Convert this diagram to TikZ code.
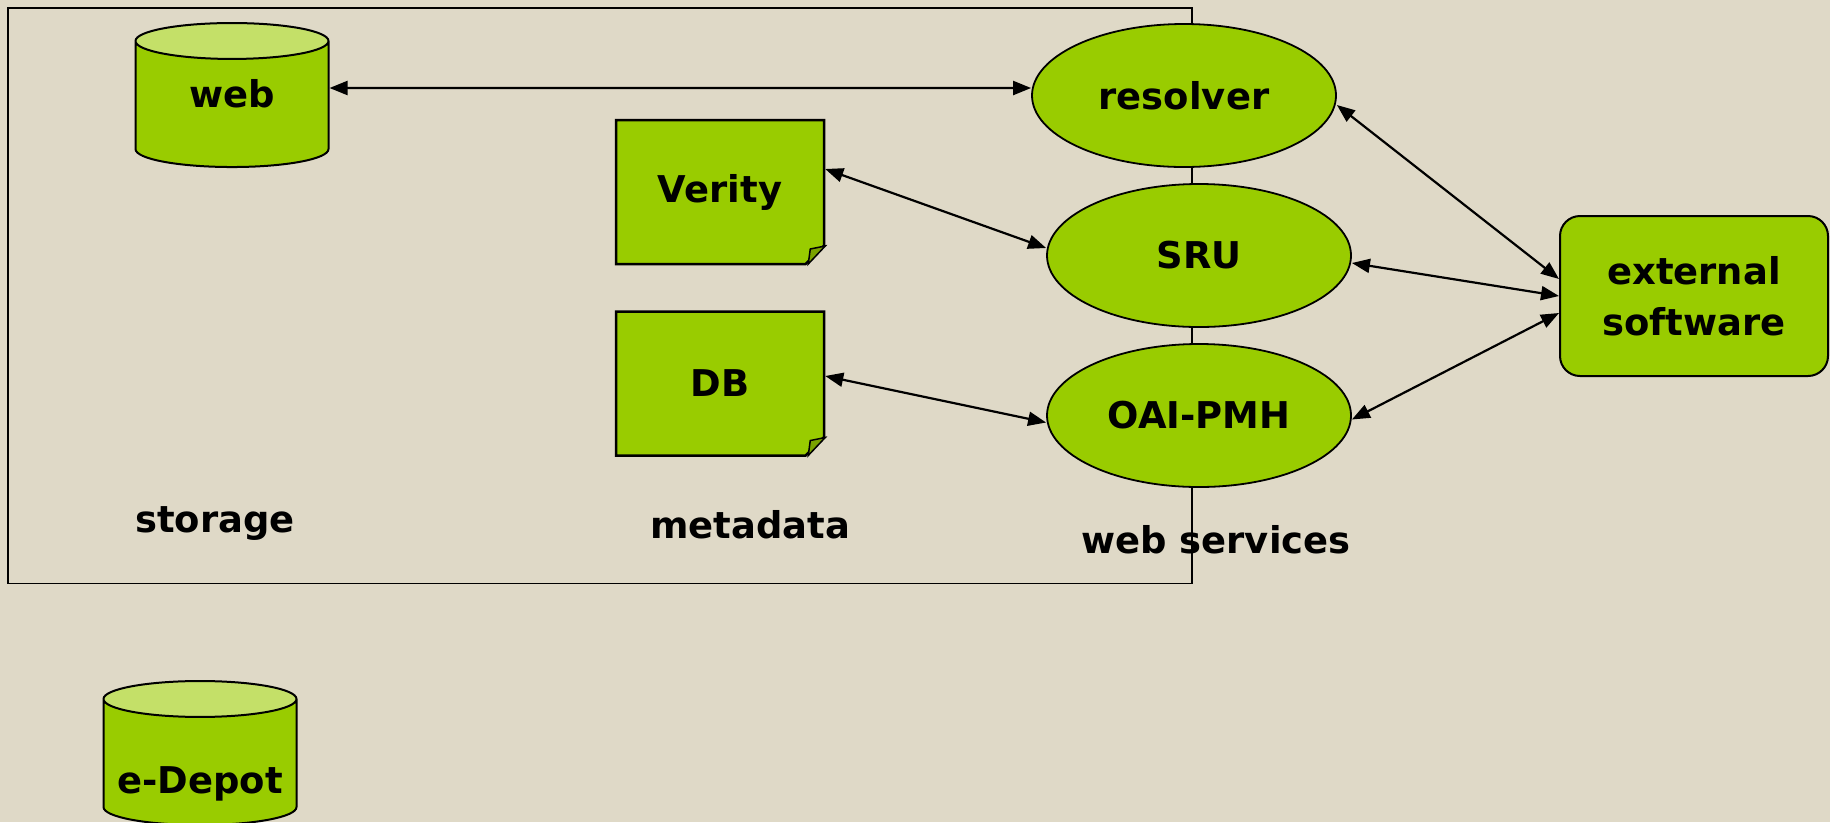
\documentclass[tikz,border=0pt]{standalone}
\usepackage{fontspec}
\setmainfont{DejaVu Sans}
\usepackage{tikz}
\usetikzlibrary{arrows.meta,shapes.geometric,shapes.misc,calc}

\definecolor{paper}{RGB}{223,217,199}
\definecolor{grn}{RGB}{153,204,0}
\definecolor{grnlight}{RGB}{196,224,104}
\definecolor{grndark}{RGB}{122,163,0}

\begin{document}
\begin{tikzpicture}[font=\fontsize{10.5}{14.5}\selectfont\bfseries,
    store/.style={cylinder, shape border rotate=90, aspect=0.42, draw, line width=0.02cm,
        cylinder uses custom fill, cylinder body fill=grn, cylinder end fill=grnlight,
        minimum width=1.93cm, minimum height=1.44cm, inner sep=0pt, text depth=0.23cm},
    svc/.style={ellipse, draw, fill=grn, line width=0.018cm, minimum width=3.04cm,
        minimum height=1.43cm, inner sep=0pt},
    note/.style={chamfered rectangle, chamfered rectangle corners=south east,
        chamfered rectangle xsep=0.092cm, chamfered rectangle ysep=0.092cm,
        draw, fill=grn, line width=0.025cm, minimum width=2.08cm, minimum height=1.44cm,
        inner sep=0pt},
    fold/.style={fill=grndark, draw, line width=0.015cm},
    conn/.style={{Triangle[length=0.18cm,width=0.14cm]}-{Triangle[length=0.18cm,width=0.14cm]},
        line width=0.022cm}]
    \fill[paper] (0,0) rectangle (18.3,-8.22);
    \clip (0,0) rectangle (18.3,-8.22);
    % frame round storage, metadata and web services
    \draw[line width=0.015cm] (0.08,-0.08) rectangle (11.92,-5.835);
    \node[store] (Web) at (2.32,-1.045) {web};
    \node[store] (Depot) at (2.00,-7.625) {\phantom{web}};
    \node (DepotText) at ($(Depot.center)+(0,-0.21)$) {e-Depot};
    \node[note] (Verity) at (7.20,-1.92) {Verity};
    \node[note] (Db) at (7.20,-3.835) {DB};
    \fill[fold] ($(Verity.east)+(-0.17,-0.72)$) -- ($(Verity.east)+(0,-0.54)$)
        -- ($(Verity.east)+(-0.15,-0.57)$) -- cycle;
    \fill[fold] ($(Db.east)+(-0.17,-0.72)$) -- ($(Db.east)+(0,-0.54)$)
        -- ($(Db.east)+(-0.15,-0.57)$) -- cycle;
    \node[svc] (Resolver) at (11.84,-0.955) {resolver};
    \node[svc] (Sru) at (11.99,-2.555) {SRU};
    \node[svc] (Oai) at (11.99,-4.155) {OAI-PMH};
    \node[draw, fill=grn, rounded corners=0.2cm, line width=0.02cm, align=center,
        minimum width=2.68cm, minimum height=1.60cm] (Ext) at (16.94,-2.96) {external\\software};
    \node (Storage) at (2.15,-5.24) {storage};
    \node (Metadata) at (7.50,-5.25) {metadata};
    \node (Services) at (12.16,-5.40) {web services};
    \draw[conn] ([yshift=0.165cm]Web.east) -- ([yshift=0.075cm]Resolver.west);
    \draw[conn] ([yshift=0.23cm]Verity.east) -- ([yshift=0.075cm]Sru.west);
    \draw[conn] ([yshift=0.075cm]Db.east) -- ([yshift=-0.07cm]Oai.west);
    \draw[conn] ([yshift=-0.095cm]Resolver.east) -- ([yshift=0.17cm]Ext.west);
    \draw[conn] ([yshift=-0.075cm]Sru.east) -- (Ext.west);
    \draw[conn] ([yshift=-0.04cm]Oai.east) -- ([yshift=-0.17cm]Ext.west);
\end{tikzpicture}
\end{document}
